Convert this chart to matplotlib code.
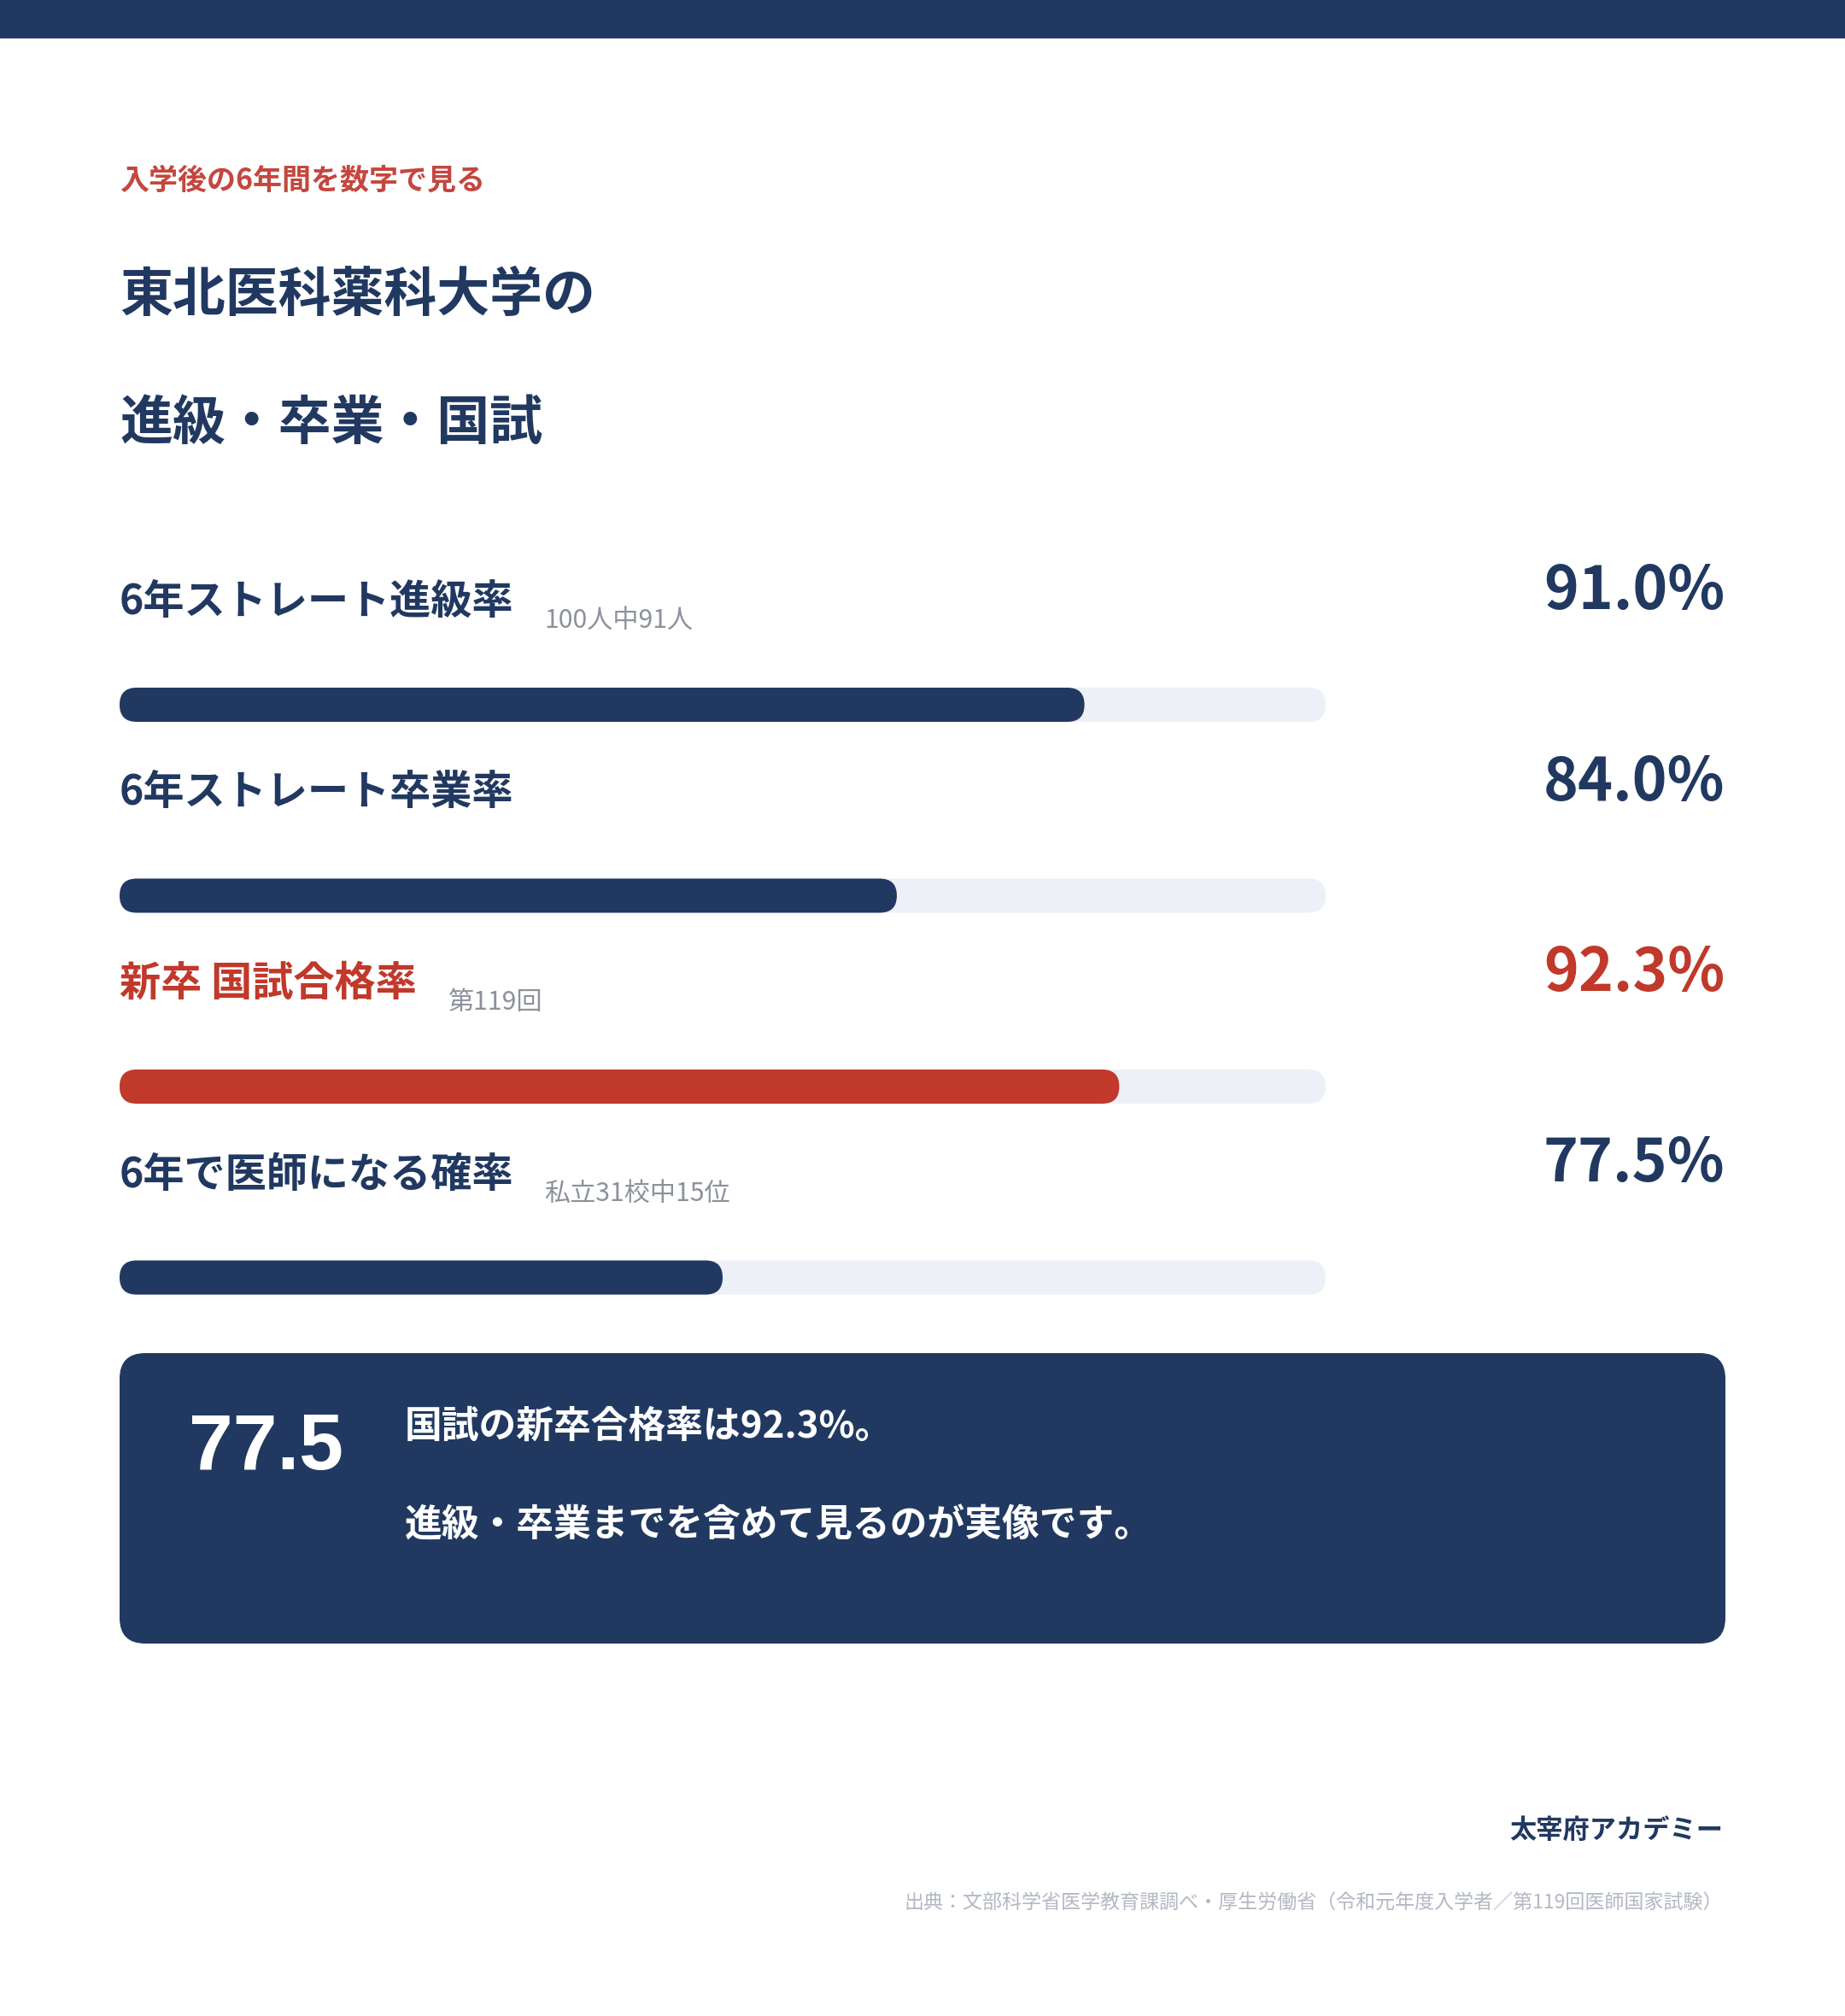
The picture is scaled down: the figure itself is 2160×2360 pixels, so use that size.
import matplotlib
matplotlib.use("Agg")
import matplotlib.pyplot as plt
from matplotlib.patches import FancyBboxPatch, Rectangle

# ---------------------------------------------
# Data
# ---------------------------------------------
labels = ["6年ストレート進級率", "6年ストレート卒業率", "新卒 国試合格率", "6年で医師になる確率"]
subnotes = ["100人中91人", "", "第119回", "私立31校中15位"]
values = [91.0, 84.0, 92.3, 77.5]
highlight = [False, False, True, False]
scale_min, scale_max = 55, 100

kicker = "入学後の6年間を数字で見る"
title_lines = ["東北医科薬科大学の", "進級・卒業・国試"]
box_number = "77.5"
box_lines = ["国試の新卒合格率は92.3%。", "進級・卒業までを含めて見るのが実像です。"]
brand = "太宰府アカデミー"
source = "出典：文部科学省医学教育課調べ・厚生労働省（令和元年度入学者／第119回医師国家試験）"

# ---------------------------------------------
# Style
# ---------------------------------------------
NAVY = "#213961"
RED = "#c0392b"
KICKER_RED = "#c4473f"
TRACK = "#edf0f7"
GRAY = "#8c919c"
LIGHT_GRAY = "#b3b8c4"
JP = ["Noto Sans CJK JP", "DejaVu Sans"]

W, H = 2160, 2360
DPI = 100
fig = plt.figure(figsize=(W / DPI, H / DPI), dpi=DPI)
fig.patch.set_facecolor("white")

ax = fig.add_axes([0, 0, 1, 1])
ax.set_xlim(0, W)
ax.set_ylim(H, 0)
ax.axis("off")

# top band
ax.add_patch(Rectangle((0, 0), W, 45, color=NAVY, lw=0))

LEFT = 140
RIGHT = 2017

# kicker + title
ax.text(LEFT, 222, kicker, family=JP, weight="bold", fontsize=24.5,
        color=KICKER_RED, va="baseline", ha="left")
for i, line in enumerate(title_lines):
    ax.text(LEFT, 364 + i * 150, line, family=JP, weight="bold", fontsize=44.6,
            color=NAVY, va="baseline", ha="left")

# ---------------------------------------------
# Progress bars
# ---------------------------------------------
BAR_X0, BAR_W = 140, 1412
BAR_H = 40
bx = fig.add_axes([BAR_X0 / W, 0, BAR_W / W, 1])
bx.set_xlim(scale_min, scale_max)
bx.set_ylim(H, 0)
bx.axis("off")
bx.patch.set_alpha(0)

x_per_px = (scale_max - scale_min) / BAR_W
aspect = 1 / x_per_px
r = (BAR_H / 2) * x_per_px * 0.999

ROW0 = 719
STEP = 223.5
for i, (lab, sub, v, hl) in enumerate(zip(labels, subnotes, values, highlight)):
    base = ROW0 + i * STEP
    col = RED if hl else NAVY

    t = ax.text(LEFT, base, lab, family=JP, weight="bold", fontsize=34.7,
                color=col, va="baseline", ha="left")
    if sub:
        ax.annotate(sub, xy=(1, base + 16), xycoords=(t, "data"),
                    xytext=(26, 0), textcoords="offset points",
                    family=JP, fontsize=21.7, color=GRAY, va="baseline", ha="left")

    ax.text(RIGHT + 2, base - 6, f"{v:.1f}%", family=JP, weight="bold", fontsize=50,
            color=col, va="baseline", ha="right")

    yc = base + 106
    track = FancyBboxPatch((scale_min, yc - BAR_H / 2), scale_max - scale_min, BAR_H,
                           boxstyle=f"round,pad=0,rounding_size={r}",
                           mutation_aspect=aspect, fc=TRACK, ec="none", lw=0)
    bx.add_patch(track)
    fill = FancyBboxPatch((scale_min, yc - BAR_H / 2), v - scale_min, BAR_H,
                          boxstyle=f"round,pad=0,rounding_size={r}",
                          mutation_aspect=aspect, fc=col, ec="none", lw=0)
    bx.add_patch(fill)

# ---------------------------------------------
# Summary box
# ---------------------------------------------
ax.add_patch(FancyBboxPatch((LEFT, 1584), 1880, 340,
                            boxstyle="round,pad=0,rounding_size=30",
                            fc=NAVY, ec="none", lw=0))
ax.text(221, 1720, box_number, family=["Liberation Sans", "DejaVu Sans"],
        weight="bold", fontsize=67, color="white", va="baseline", ha="left")
for i, line in enumerate(box_lines):
    ax.text(474, 1683 + i * 115, line, family=JP, weight="bold", fontsize=31.5,
            color="white", va="baseline", ha="left")

# ---------------------------------------------
# Footer
# ---------------------------------------------
ax.text(RIGHT, 2152, brand, family=JP, weight="bold", fontsize=22.5,
        color=NAVY, va="baseline", ha="right")
ax.text(RIGHT, 2235, source, family=JP, fontsize=16.6,
        color=LIGHT_GRAY, va="baseline", ha="right")

fig.savefig("out.png", dpi=DPI, facecolor="white")
plt.close(fig)
print("Saved: out.png")
